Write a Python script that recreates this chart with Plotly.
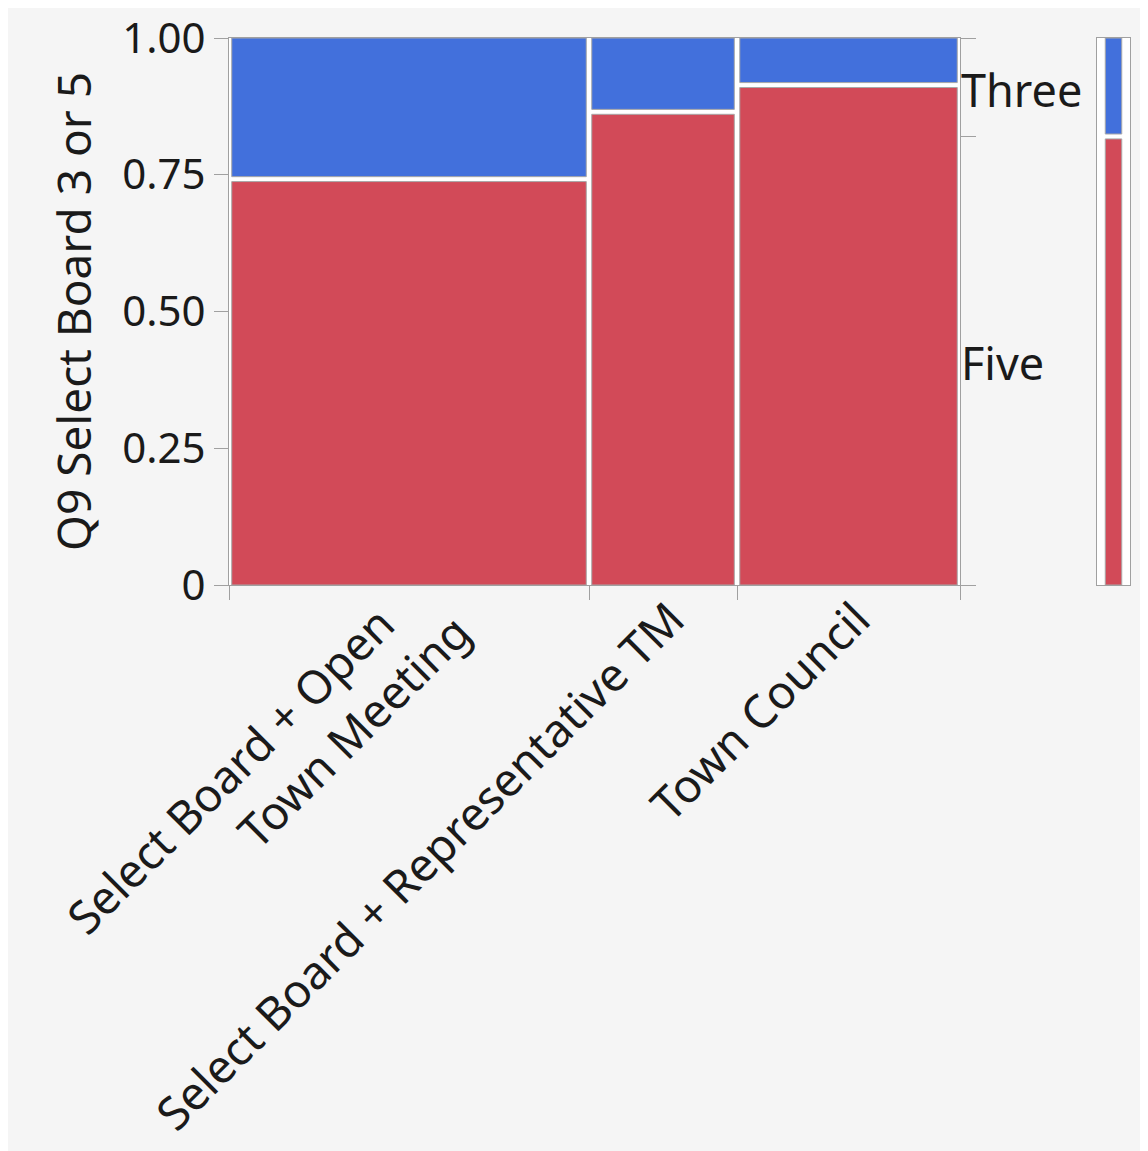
import plotly.graph_objects as go

# ---- data ----
categories = ["Select Board + Open&nbsp;&nbsp;&nbsp;&nbsp;<br>Town Meeting", "Select Board + Representative TM", "Town Council"]
group_share = [0.4925, 0.2025, 0.305]          # share of respondents per category (column widths)
five_share = [0.742, 0.865, 0.914]              # proportion "Five" within each category
levels = ["Five", "Three"]
overall_five = 0.82                              # overall proportion "Five" (legend bar)
y_ticks = [0, 0.25, 0.5, 0.75, 1.0]
y_ticktext = ["0", "0.25", "0.50", "0.75", "1.00"]

# ---- styling ----
RED = "#d24a58"
BLUE = "#4270dc"
EDGE = "#a8a8a8"
AXIS = "#a0a0a0"
FONT = "Noto Sans"
FS = 42
FS_CAT = 46
FS_TITLE = 46
FS_LEV = 45
GX = 0.0075   # horizontal gap (x data units)
GY = 0.009    # vertical gap (y data units)

lefts = []
acc = 0.0
for w in group_share:
    lefts.append(acc)
    acc += w
bounds = lefts + [acc]
centers = [l + w / 2 for l, w in zip(lefts, group_share)]

fig = go.Figure()

# Five cells
fig.add_trace(go.Bar(
    x=centers, y=[p - GY / 2 for p in five_share], base=[0] * 3,
    width=[w - GX for w in group_share],
    marker=dict(color=RED, line=dict(color=EDGE, width=1)),
    xaxis="x", yaxis="y", showlegend=False, hoverinfo="skip"))
# Three cells
fig.add_trace(go.Bar(
    x=centers, y=[1 - p - GY / 2 for p in five_share], base=[p + GY / 2 for p in five_share],
    width=[w - GX for w in group_share],
    marker=dict(color=BLUE, line=dict(color=EDGE, width=1)),
    xaxis="x", yaxis="y", showlegend=False, hoverinfo="skip"))

# invisible traces to activate tick-only axes
for xa, ya in [("x2", "y"), ("x", "y2"), ("x", "y3"), ("x4", "y")]:
    fig.add_trace(go.Scatter(x=[0, 1], y=[0, 1], mode="markers", marker=dict(opacity=0),
                             xaxis=xa, yaxis=ya, showlegend=False, hoverinfo="skip"))

# legend bar (overall)
fig.add_trace(go.Bar(x=[0.5], y=[overall_five - GY / 2], base=[0], width=[0.5],
                     marker=dict(color=RED, line=dict(color=EDGE, width=1)),
                     xaxis="x3", yaxis="y4", showlegend=False, hoverinfo="skip"))
fig.add_trace(go.Bar(x=[0.5], y=[1 - overall_five - GY / 2], base=[overall_five + GY / 2], width=[0.5],
                     marker=dict(color=BLUE, line=dict(color=EDGE, width=1)),
                     xaxis="x3", yaxis="y4", showlegend=False, hoverinfo="skip"))

W, H = 1148, 1151
ML, MR, MT, MB = 221, 26, 30, 574
pw = W - ML - MR
main_right = (952 - ML) / pw
leg_left = (1089 - ML) / pw

right_mids = [overall_five / 2, (1 + overall_five) / 2]

common = dict(showgrid=False, zeroline=False, automargin=False, ticklabeloverflow="allow")

fig.update_layout(
    width=W, height=H,
    margin=dict(l=ML, r=MR, t=MT, b=MB),
    paper_bgcolor="#f5f5f5", plot_bgcolor="white",
    barmode="overlay",
    font=dict(family=FONT, size=FS, color="#1a1a1a"),
    xaxis=dict(domain=[0, main_right], range=[0, 1], **common,
               tickmode="array", tickvals=centers[:1], ticktext=categories[:1], tickangle=-45,
               ticks="", showline=True, linecolor=AXIS, linewidth=1, mirror=True,
               ticklabelstandoff=-41, ticklabelshift=6,
               tickfont=dict(size=FS_CAT)),
    xaxis4=dict(overlaying="x", domain=[0, main_right], range=[0, 1], **common,
                tickmode="array", tickvals=centers[1:], ticktext=categories[1:], tickangle=-45,
                ticks="", showline=False, side="bottom",
                ticklabelstandoff=-3, ticklabelshift=8,
                tickfont=dict(size=FS_CAT)),
    xaxis2=dict(overlaying="x", domain=[0, main_right], range=[0, 1], **common,
                tickmode="array", tickvals=bounds, ticks="outside", ticklen=14, tickcolor=AXIS,
                showticklabels=False, side="bottom", showline=False),
    yaxis=dict(range=[0, 1], **common, tickmode="array",
               tickvals=y_ticks, ticktext=y_ticktext, ticks="outside", ticklen=14, tickcolor=AXIS,
               showline=True, linecolor=AXIS, linewidth=1, mirror=True,
               title=dict(text="Q9 Select Board 3 or 5", standoff=16, font=dict(size=FS_TITLE))),
    yaxis2=dict(overlaying="y", side="right", anchor="x", range=[0, 1], **common,
                tickmode="array", tickvals=[0, overall_five, 1], ticks="outside", ticklen=15,
                tickcolor=AXIS, showticklabels=False),
    yaxis3=dict(overlaying="y", side="right", anchor="x", range=[0, 1], **common,
                tickmode="array", tickvals=right_mids, ticktext=levels, ticks="", ticklen=0,
                ticklabelshift=4,
                tickfont=dict(size=FS_LEV)),
    xaxis3=dict(domain=[leg_left, 1], range=[0, 1], **common,
                showticklabels=False, ticks="", showline=True, linecolor=AXIS, mirror=True,
                anchor="y4"),
    yaxis4=dict(domain=[0, 1], range=[0, 1], **common,
                showticklabels=False, ticks="", showline=True, linecolor=AXIS, mirror=True,
                anchor="x3"),
)

fig.write_html("out.html")
